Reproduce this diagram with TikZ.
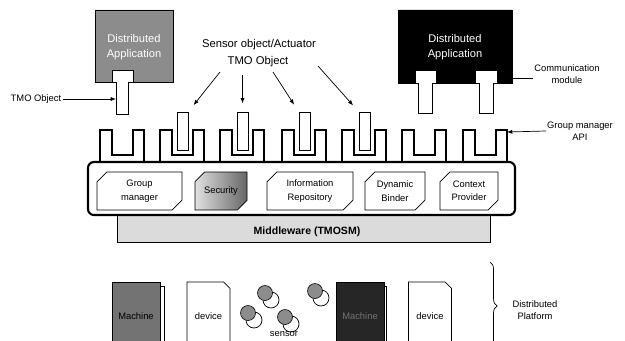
\documentclass[tikz,border=0pt]{standalone}
\usepackage{fontspec}
\setmainfont{Liberation Sans}
\usetikzlibrary{arrows.meta,shapes.misc,decorations.pathreplacing}
\tikzset{
  appbox/.style={draw=black, line width=0.8pt},
  apptext/.style={font=\fontsize{9.5}{12.5}\selectfont, text=white, align=center},
  plug/.style={fill=white, draw=black, line width=0.8pt},
  socket/.style={draw=black, line width=0.9pt, line join=miter},
  stick/.style={rectangle, fill=white, draw=black, line width=0.8pt, minimum width=0.33cm, minimum height=1.14cm, inner sep=0pt},
  frame/.style={draw=black, line width=1.8pt, rounded corners=5pt},
  mwbox/.style={draw=black, line width=0.6pt, fill=black!14},
  module/.style={chamfered rectangle, chamfered rectangle corners={north west,south east}, chamfered rectangle xsep=5pt, draw=black, line width=0.6pt, fill=white, minimum height=1.14cm, inner sep=1pt, align=center, font=\fontsize{8}{11.5}\selectfont},
  machine/.style={rectangle, draw=black, line width=0.5pt, minimum width=1.44cm, minimum height=2.04cm, font=\fontsize{8}{9}\selectfont},
  device/.style={chamfered rectangle, chamfered rectangle corners=north east, chamfered rectangle xsep=2pt, draw=black, line width=0.6pt, minimum width=1.29cm, minimum height=2.04cm, inner sep=1pt, font=\fontsize{8}{9}\selectfont},
  lbl/.style={font=\fontsize{8}{10}\selectfont, align=center, inner sep=1pt},
  toplbl/.style={font=\fontsize{9.6}{11}\selectfont, align=center, inner sep=1pt},
  ptr/.style={draw=black, line width=0.6pt, -{Latex[length=4.5pt,width=3.5pt]}},
  brace/.style={draw=black, line width=0.6pt, decorate, decoration={brace, amplitude=6pt}},
}

\begin{document}
\begin{tikzpicture}[x=0.03cm, y=-0.03cm]
\useasboundingbox (0,0) rectangle (625,340);
% distributed applications
\draw[appbox, fill=black!45] (95,10) -- (173,10) -- (173,82) -- (133,82) -- (133,70) -- (112,70) -- (112,82) -- (95,82) -- cycle;
\node[apptext] (lapp) at (134,47) {Distributed\\Application};
\draw[appbox, fill=black] (398,10) -- (512,10) -- (512,83) -- (497,83) -- (497,70) -- (475,70) -- (475,83) -- (436,83) -- (436,70) -- (415,70) -- (415,83) -- (398,83) -- cycle;
\node[apptext] (rapp) at (455,47) {Distributed\\Application};
% plugs of the applications
\draw[plug] (112,82) -- (112,70) -- (133,70) -- (133,82) -- (128,82) -- (128,114) -- (116,114) -- (116,82) -- cycle;
\draw[plug] (415,83) -- (415,70) -- (436,70) -- (436,83) -- (432,83) -- (432,113) -- (418,113) -- (418,83) -- cycle;
\draw[plug] (475,83) -- (475,70) -- (497,70) -- (497,83) -- (493,83) -- (493,113) -- (479,113) -- (479,83) -- cycle;
% group manager API sockets
\draw[socket] (100,162) -- (100,130) -- (112,130) -- (112,155) -- (133,155) -- (133,130) -- (144,130) -- (144,162);
\draw[socket] (160,162) -- (160,130) -- (172,130) -- (172,155) -- (193,155) -- (193,130) -- (204,130) -- (204,162);
\draw[socket] (220,162) -- (220,130) -- (232,130) -- (232,155) -- (253,155) -- (253,130) -- (264,130) -- (264,162);
\draw[socket] (282,162) -- (282,130) -- (294,130) -- (294,155) -- (315,155) -- (315,130) -- (326,130) -- (326,162);
\draw[socket] (342,162) -- (342,130) -- (354,130) -- (354,155) -- (375,155) -- (375,130) -- (386,130) -- (386,162);
\draw[socket] (402,162) -- (402,130) -- (414,130) -- (414,155) -- (435,155) -- (435,130) -- (446,130) -- (446,162);
\draw[socket] (463,162) -- (463,130) -- (475,130) -- (475,155) -- (496,155) -- (496,130) -- (507,130) -- (507,162);
% sensor / actuator TMO objects
\node[stick] (st2) at (182.5,131) {};
\node[stick] (st3) at (242.5,131) {};
\node[stick] (st4) at (304.5,131) {};
\node[stick] (st5) at (364.5,131) {};
% middleware
\draw[mwbox] (117,200) rectangle (490,242);
\node[font=\bfseries\fontsize{9}{10}\selectfont] (mw) at (307,232) {Middleware (TMOSM)};
\draw[frame, fill=white] (88,162) rectangle (515,215);
\node[module, minimum width=2.55cm] (grpm) at (139.5,191) {Group\\manager};
\node[module, minimum width=1.56cm, shade, left color=black!12, right color=black!60] (secu) at (221,191) {Security};
\node[module, minimum width=2.58cm] (inforep) at (310,191) {Information\\Repository};
\node[module, minimum width=1.80cm] (dynb) at (395,191) {Dynamic\\Binder};
\node[module, minimum width=1.74cm] (ctxp) at (469,191) {Context\\Provider};
% labels
\node[lbl] (tmoleft) at (36,99) {TMO Object};
\coordinate (lstem) at (116,99);
\draw[ptr] (tmoleft.east) -- (lstem);
\node[toplbl] (sensact) at (259,45) {Sensor object/Actuator};
\node[toplbl] (tmotop) at (258,62) {TMO Object};
\coordinate (a2) at (220,72);
\coordinate (a3) at (242.5,75);
\coordinate (a4) at (273,72);
\coordinate (a5) at (318,66);
\draw[ptr, shorten >=7pt] (a2) -- (st2.north east);
\draw[ptr, shorten >=7pt] (a3) -- (st3.north);
\draw[ptr, shorten >=7pt] (a4) -- (st4.north west);
\draw[ptr, shorten >=7pt] (a5) -- (st5.north west);
\node[lbl] (commod) at (567,74) {Communication\\module};
\coordinate (redge) at (512,78);
\draw[line width=0.6pt] (redge) -- (commod.west |- redge);
\node[lbl] (gmapi) at (580,131) {Group manager\\API};
\coordinate (s7edge) at (507,132);
\draw[ptr] (gmapi.west) -- (s7edge);
% distributed platform
\draw[line width=0.5pt] (160,286) -- (164,286) -- (164,350);
\node[machine, fill=black!55, text=black] (mach1) at (136,316) {Machine};
\node[device] (dev1) at (208.5,316) {device};
\draw[line width=0.5pt] (382,286) -- (386,286) -- (386,350);
\node[machine, fill=black!85, text=black!55] (mach2) at (360,316) {Machine};
\node[device] (dev2) at (430,316) {device};
\draw[line width=0.6pt, fill=white] (271,300) circle (8);
\fill[black!45, draw=black, line width=0.5pt] (265,293) circle (7.5);
\draw[line width=0.6pt, fill=white] (254,320) circle (8);
\fill[black!45, draw=black, line width=0.5pt] (248,313) circle (7.5);
\draw[line width=0.6pt, fill=white] (291,324) circle (8);
\fill[black!45, draw=black, line width=0.5pt] (285,317) circle (7.5);
\draw[line width=0.6pt, fill=white] (321,298) circle (8);
\fill[black!45, draw=black, line width=0.5pt] (315,291) circle (7.5);
\node[lbl] (sensr) at (284,334.5) {sensor};
\draw[brace] (490,262) -- (490,350);
\node[lbl] (distplat) at (535,310) {Distributed\\Platform};
\end{tikzpicture}
\end{document}
